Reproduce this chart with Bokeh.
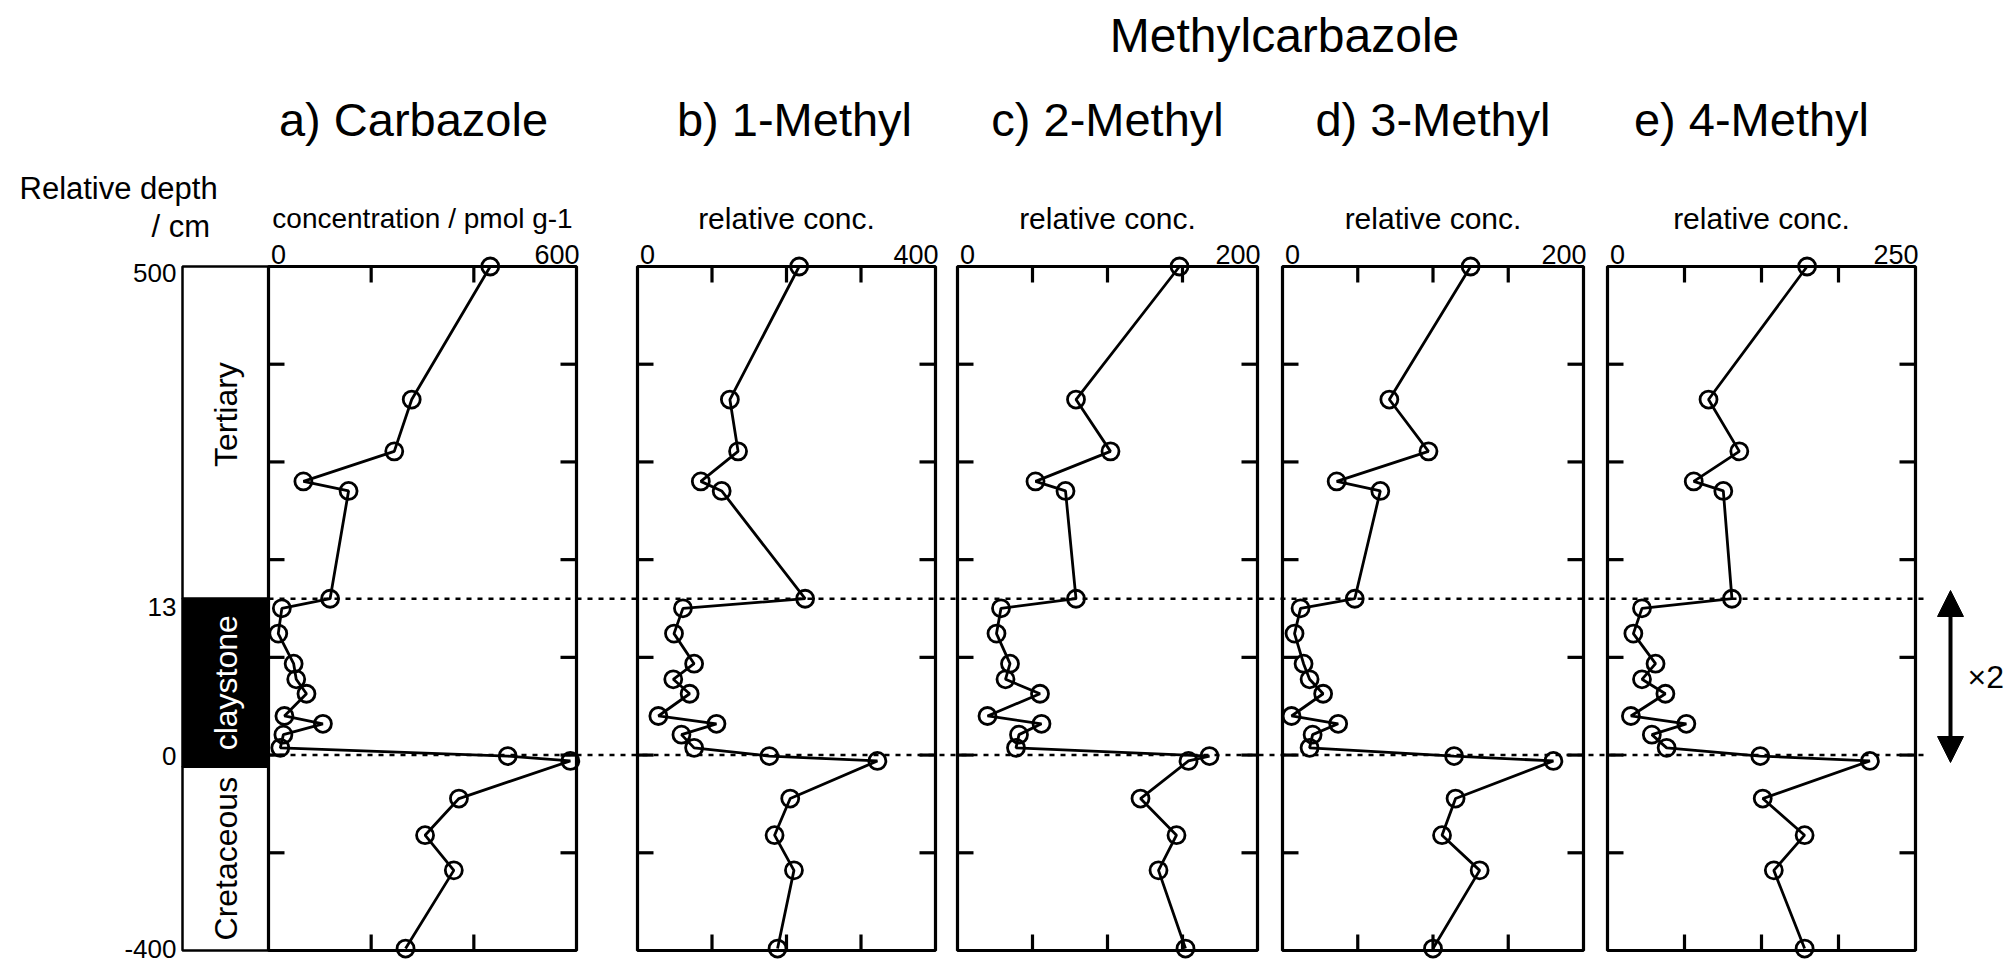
import numpy as np
from bokeh.plotting import figure
from bokeh.models import Range1d, Arrow, NormalHead
from bokeh.core.properties import value
from bokeh.embed import file_html
from bokeh.resources import INLINE

# Sample depths relative to the claystone base (cm)
depth_cm = [500, 305, 229, 185, 171, 13, 12.2, 10.1, 7.6, 6.3, 5.1, 3.25, 2.6,
            1.7, 0.6, -2, -12, -89, -164, -236, -396]

# Carbazole concentration (pmol/g) and relative methylcarbazole concentrations
carbazole = [432, 279, 245, 68, 156, 120, 26, 19, 49, 54, 74, 31, 106, 29, 23,
             466, 588, 371, 305, 361, 267]
methyl_1 = [217, 124, 135, 85, 113, 225, 61, 49, 76, 48, 70, 28, 106, 59, 76,
            177, 322, 205, 184, 210, 188]
methyl_2 = [148, 79, 102, 52, 72, 79, 29, 26, 35, 32, 55, 20, 56, 41, 39,
            168, 154, 122, 146, 134, 152]
methyl_3 = [125, 71, 97, 36, 65, 48, 12, 8, 14, 18, 27, 6, 37, 20, 18,
            114, 180, 115, 106, 131, 100]
methyl_4 = [162, 82, 107, 70, 94, 101, 28, 21, 39, 28, 47, 19, 64, 36, 48,
            124, 213, 126, 160, 135, 160]

panel_titles = ["a) Carbazole", "b) 1-Methyl", "c) 2-Methyl", "d) 3-Methyl", "e) 4-Methyl"]
axis_titles = ["concentration / pmol g-1", "relative conc.", "relative conc.",
               "relative conc.", "relative conc."]
axis_max = [600, 400, 200, 200, 250]
axis_divisions = [3, 4, 4, 4, 4]
group_title = "Methylcarbazole"

depth_ticks = [500, 13, 0, -400]
boundary_depths = [13, 0]

strata_names = ["Tertiary", "claystone", "Cretaceous"]
strata_top = [500, 13, -24]
strata_bottom = [13, -24, -400]

# Broken depth scale: the thin claystone interval is stretched
scale_depth = [-400, 0, 13, 500]
scale_pos = [7.0, 5.0, 3.4, 0.0]


def depth_to_pos(d):
    return np.interp(np.asarray(d, dtype=float), scale_depth, scale_pos)


# Page layout (pixels)
W, H = 2010, 966
TOP, BOTTOM = 266, 950
unit_px = (BOTTOM - TOP) / 7.0
panel_px = [(268, 576), (637, 935), (957, 1257), (1282, 1583), (1607, 1915)]
title_shift = [-9, 8, 0, 0, -10]
axis_title_size = ["28px", "30px", "30px", "30px", "30px"]
COL_L, COL_R = 182, 268
FONT = value("Liberation Sans")

series = [carbazole, methyl_1, methyl_2, methyl_3, methyl_4]

x_ranges = {}
for i, (vmax, (L, R)) in enumerate(zip(axis_max, panel_px)):
    k = vmax / (R - L)
    x_ranges[f"panel{i}"] = Range1d(start=-L * k, end=vmax + (W - R) * k)

p = figure(width=W, height=H, title=None,
           x_range=Range1d(0, W), y_range=Range1d(H, 0),
           x_axis_type=None, y_axis_type=None,
           toolbar_location=None, output_backend="svg",
           min_border=0, outline_line_color=None,
           background_fill_color="white", border_fill_color="white")
p.extra_y_ranges = {"depth": Range1d(start=(H - TOP) / unit_px, end=-TOP / unit_px)}
p.extra_x_ranges = x_ranges

# dotted boundary lines (top of claystone and K/T boundary)
bpos = depth_to_pos(boundary_depths)
p.segment(x0=[COL_R] * 2, x1=[1926] * 2, y0=bpos, y1=bpos, y_range_name="depth",
          line_color="black", line_width=2.4, line_dash="5 6")

# lithology column
tops = depth_to_pos(strata_top)
bots = depth_to_pos(strata_bottom)
p.quad(left=COL_L, right=COL_R, top=tops, bottom=bots, y_range_name="depth",
       fill_color=["white", "black", "white"], line_color="black", line_width=2.5)
p.text(x=[(COL_L + COL_R) / 2] * 3, y=(tops + bots) / 2, text=strata_names,
       y_offset=[-18, 0, 0], angle=np.pi / 2, text_color=["black", "white", "black"],
       text_align="center", text_baseline="middle", text_font=FONT,
       text_font_size="32px", y_range_name="depth")

# depth labels
p.text(x=COL_L - 6, y=depth_to_pos(depth_ticks), text=[str(d) for d in depth_ticks],
       y_offset=[6, 8, 1, -2], text_align="right", text_baseline="middle",
       text_font=FONT, text_font_size="26px", y_range_name="depth")
p.text(x=[19], y=[188], text=["Relative depth"], text_align="left",
       text_baseline="middle", text_font=FONT, text_font_size="31px")
p.text(x=[151], y=[226], text=["/ cm"], text_align="left",
       text_baseline="middle", text_font=FONT, text_font_size="31px")

ypos = depth_to_pos(depth_cm)
inner_rows = list(range(1, 7))

for i, (vals, vmax, ndiv) in enumerate(zip(series, axis_max, axis_divisions)):
    rn = f"panel{i}"
    kw = dict(x_range_name=rn, y_range_name="depth")

    p.quad(left=[0], right=[vmax], top=[0], bottom=[7], fill_color=None,
           line_color="black", line_width=3.2, **kw)

    xt = [vmax * j / ndiv for j in range(1, ndiv)]
    tick = dict(length=16, length_units="screen", line_color="black", line_width=3.2)
    p.ray(x=xt, y=0, angle=-np.pi / 2, **tick, **kw)
    p.ray(x=xt, y=7, angle=np.pi / 2, **tick, **kw)
    p.ray(x=0, y=inner_rows, angle=0, **tick, **kw)
    p.ray(x=vmax, y=inner_rows, angle=np.pi, **tick, **kw)

    p.line(vals, ypos, line_color="black", line_width=2.8, **kw)
    p.scatter(vals, ypos, marker="circle", size=17, fill_color=None,
              line_color="black", line_width=2.8, **kw)

    # top axis end labels
    p.text(x=[0], y=[254], text=["0"], x_offset=10, x_range_name=rn,
           text_align="center", text_baseline="middle", text_font=FONT,
           text_font_size="27px")
    p.text(x=[vmax], y=[254], text=[str(vmax)], x_offset=3, x_range_name=rn,
           text_align="right", text_baseline="middle", text_font=FONT,
           text_font_size="27px")

    p.text(x=[vmax / 2], y=[218], text=[axis_titles[i]], x_range_name=rn,
           text_align="center", text_baseline="middle", text_font=FONT,
           text_font_size=axis_title_size[i])
    p.text(x=[vmax / 2], y=[119], text=[panel_titles[i]], x_range_name=rn,
           x_offset=title_shift[i], text_align="center", text_baseline="middle",
           text_font=FONT, text_font_size="47px")

p.text(x=[(panel_px[1][0] + panel_px[4][1]) / 2], y=[35], text=[group_title],
       x_offset=8, text_align="center", text_baseline="middle", text_font=FONT,
       text_font_size="48px")

# stretch marker for the claystone interval
head = dict(size=26, fill_color="black", line_color="black")
p.add_layout(Arrow(start=NormalHead(**head), end=NormalHead(**head),
                   x_start=1950, y_start=590, x_end=1950, y_end=762,
                   line_width=4, line_color="black"))
p.text(x=[1967], y=[676], text=["×2"], text_align="left", text_baseline="middle",
       text_font=FONT, text_font_size="32px")

open("out.html", "w").write(file_html(p, INLINE))
